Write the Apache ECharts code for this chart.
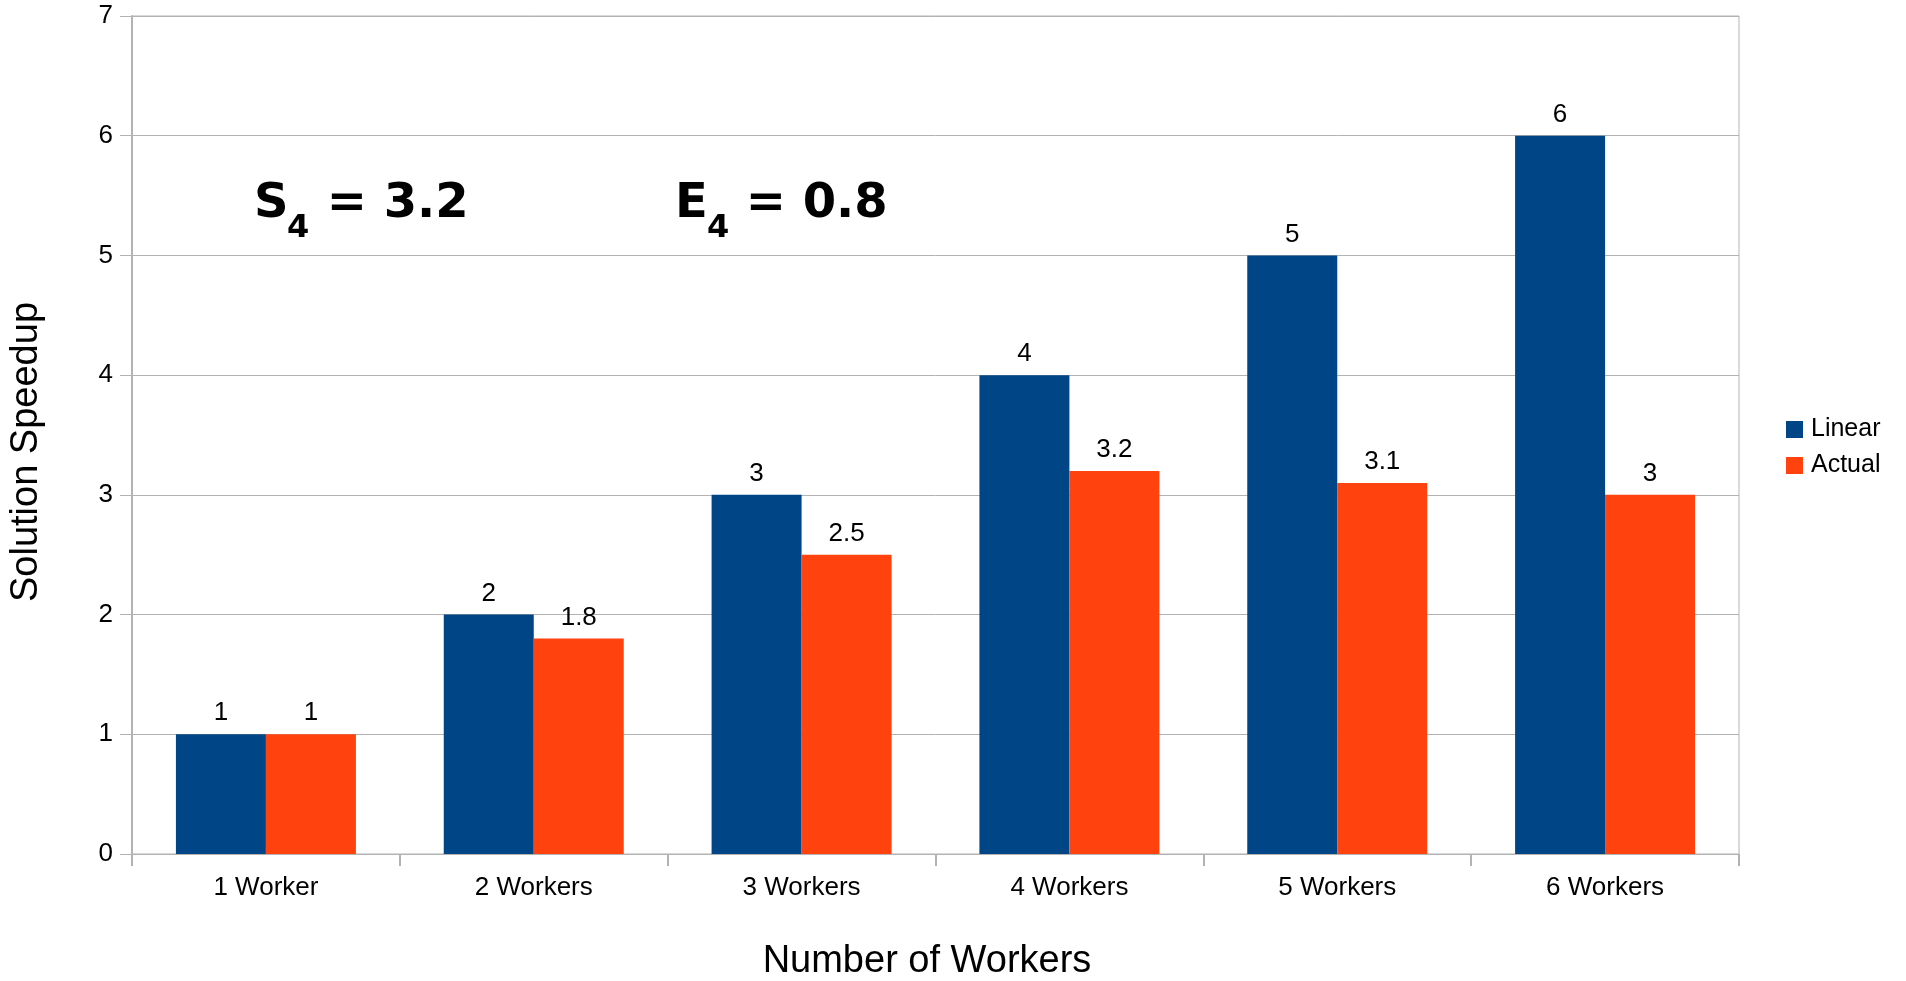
<!DOCTYPE html>
<html>
<head>
<meta charset="utf-8">
<title>Solution Speedup</title>
<script src="https://cdn.jsdelivr.net/npm/echarts@6/dist/echarts.min.js"></script>
<style>
  html, body { margin: 0; padding: 0; background: #ffffff; }
  #chart { width: 1906px; height: 981px; }
</style>
</head>
<body>
<div id="chart"></div>
<script>
// Worker counts on the x axis
const categories = ['1 Worker', '2 Workers', '3 Workers', '4 Workers', '5 Workers', '6 Workers'];
// Ideal (linear) speedup and measured speedup
const linearSpeedup = [1, 2, 3, 4, 5, 6];
const actualSpeedup = [1, 1.8, 2.5, 3.2, 3.1, 3];
// Value axis range
const yMin = 0;
const yMax = 7;
const yStep = 1;

const BLUE = '#004586';
const ORANGE = '#ff420e';
const GRID_GREY = '#b3b3b3';
const SANS = '"Liberation Sans", Arial, sans-serif';
const BOLD = '"DejaVu Sans", sans-serif';

const chart = echarts.init(document.getElementById('chart'), null, { renderer: 'canvas' });

const labelStyle = {
  show: true,
  position: 'top',
  distance: 8,
  fontFamily: SANS,
  fontSize: 26,
  color: '#000000'
};

// Text pieces for the speedup / efficiency annotations (main + subscript)
function formulaText(x, y, text, size) {
  return {
    type: 'text',
    x: x,
    y: y,
    style: {
      text: text,
      fontFamily: BOLD,
      fontWeight: 'bold',
      fontSize: size,
      fill: '#000000',
      align: 'left',
      verticalAlign: 'middle'
    },
    z: 100
  };
}

const option = {
  backgroundColor: '#ffffff',
  animation: false,
  grid: {
    left: 132,
    top: 16,
    width: 1607,
    height: 838,
    show: true,
    borderColor: GRID_GREY,
    borderWidth: 1,
    containLabel: false
  },
  legend: {
    orient: 'vertical',
    left: 1786,
    top: 417,
    padding: 0,
    itemWidth: 17,
    itemHeight: 17,
    itemGap: 11,
    icon: 'rect',
    textStyle: {
      fontFamily: SANS,
      fontSize: 25,
      color: '#000000',
      padding: [0, 0, 0, 3]
    },
    data: ['Linear', 'Actual']
  },
  xAxis: {
    type: 'category',
    data: categories,
    boundaryGap: true,
    axisLine: { show: true, lineStyle: { color: GRID_GREY, width: 1 } },
    axisTick: { show: true, length: 12, alignWithLabel: false, lineStyle: { color: GRID_GREY, width: 2 } },
    axisLabel: { margin: 21, fontFamily: SANS, fontSize: 26, color: '#000000' },
    splitLine: { show: false }
  },
  yAxis: {
    type: 'value',
    min: yMin,
    max: yMax,
    interval: yStep,
    axisLine: { show: true, lineStyle: { color: GRID_GREY, width: 2 } },
    axisTick: { show: true, length: 12, inside: false, lineStyle: { color: GRID_GREY, width: 1 } },
    axisLabel: { margin: 19, fontFamily: SANS, fontSize: 26, color: '#000000' },
    splitLine: { show: true, lineStyle: { color: GRID_GREY, width: 1 } }
  },
  series: [
    {
      name: 'Linear',
      type: 'bar',
      data: linearSpeedup,
      barWidth: 90,
      barGap: '0%',
      itemStyle: { color: BLUE },
      label: labelStyle
    },
    {
      name: 'Actual',
      type: 'bar',
      data: actualSpeedup,
      barWidth: 90,
      barGap: '0%',
      itemStyle: { color: ORANGE },
      label: labelStyle
    }
  ],
  graphic: [
    // Axis titles
    {
      type: 'text',
      x: 27,
      y: 452,
      rotation: Math.PI / 2,
      style: {
        text: 'Solution Speedup',
        fontFamily: SANS,
        fontSize: 38,
        fill: '#000000',
        align: 'center',
        verticalAlign: 'middle'
      }
    },
    {
      type: 'text',
      x: 927,
      y: 962,
      style: {
        text: 'Number of Workers',
        fontFamily: SANS,
        fontSize: 38,
        fill: '#000000',
        align: 'center',
        verticalAlign: 'middle'
      }
    },
    // S4 = 3.2
    formulaText(254, 205, 'S', 48),
    formulaText(287, 229, '4', 32),
    formulaText(310, 205, ' = 3.2', 48),
    // E4 = 0.8
    formulaText(675, 205, 'E', 48),
    formulaText(707, 229, '4', 32),
    formulaText(729, 205, ' = 0.8', 48)
  ]
};

chart.setOption(option);
</script>
</body>
</html>
